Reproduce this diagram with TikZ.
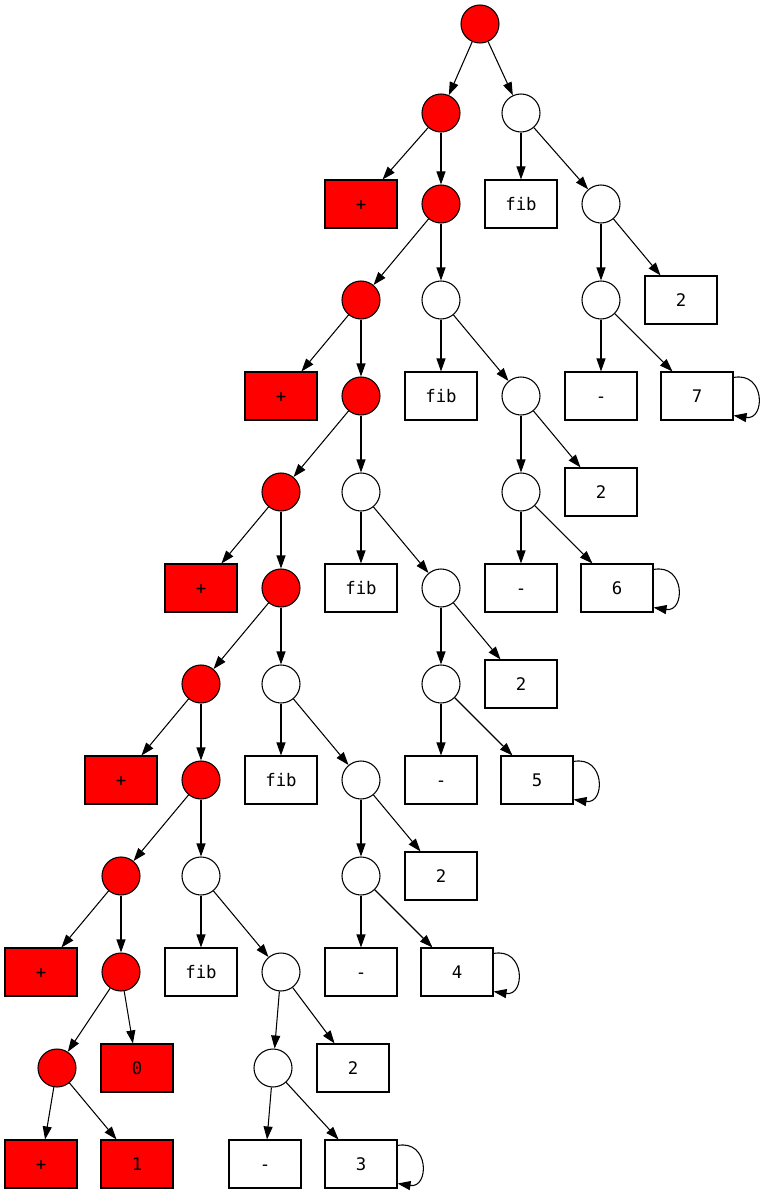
\documentclass[tikz,border=0pt]{standalone}
\usepackage{fontspec}
\setmonofont{DejaVu Sans Mono}
\usetikzlibrary{arrows.meta,positioning}

\begin{document}
\begin{tikzpicture}[
        on grid,
        node distance=72pt and 60pt,
        font=\ttfamily\fontsize{13}{15}\selectfont,
        op/.style={draw, circle, line width=0.8pt, minimum size=28.5pt, inner sep=0pt},
        redop/.style={op, fill=red},
        leaf/.style={draw, rectangle, line width=0.8pt, minimum width=54pt, minimum height=36pt, inner sep=0pt, text height=9.5pt, text depth=0pt},
        redleaf/.style={leaf, fill=red},
        link/.style={-{Triangle[length=9.75pt,width=6.75pt]}, line width=0.8pt},
        selfloop/.style={link}
    ]
        \useasboundingbox (0,0) rectangle (572.25pt,-896.25pt);

        \node[redop] (r0) at (360pt,-18pt) {};
        \node[redop, below left=66.75pt and 29.25pt of r0] (r1) {};
        \node[op, below right=66.75pt and 30.75pt of r0] (w1) {};

        \node[redleaf, below left=68.25pt and 60pt of r1] (p1) {+};
        \node[redop, below=68.25pt of r1] (r2) {};
        \node[leaf, below=68.25pt of w1] (fib1) {fib};
        \node[op, below right=68.25pt and 60pt of w1] (w1b) {};
        \node[op, below=of w1b] (w1c) {};
        \node[leaf, below right=of w1b] (two1) {2};
        \node[leaf, below=of w1c] (minus1) {-};
        \node[leaf, below right=72pt and 72pt of w1c] (n7) {7};

        \node[redop, below left=of r2] (r3) {};
        \node[op, below=of r2] (w2) {};
        \node[leaf, below=of w2] (fib2) {fib};
        \node[op, below right=of w2] (w2b) {};
        \node[op, below=of w2b] (w2c) {};
        \node[leaf, below right=of w2b] (two2) {2};
        \node[leaf, below=of w2c] (minus2) {-};
        \node[leaf, below right=72pt and 72pt of w2c] (n6) {6};

        \node[redleaf, below left=of r3] (p2) {+};
        \node[redop, below=of r3] (r4) {};
        \node[redop, below left=of r4] (r5) {};
        \node[op, below=of r4] (w3) {};
        \node[leaf, below=of w3] (fib3) {fib};
        \node[op, below right=of w3] (w3b) {};
        \node[op, below=of w3b] (w3c) {};
        \node[leaf, below right=of w3b] (two3) {2};
        \node[leaf, below=of w3c] (minus3) {-};
        \node[leaf, below right=72pt and 72pt of w3c] (n5) {5};

        \node[redleaf, below left=of r5] (p3) {+};
        \node[redop, below=of r5] (r6) {};
        \node[redop, below left=of r6] (r7) {};
        \node[op, below=of r6] (w4) {};
        \node[leaf, below=of w4] (fib4) {fib};
        \node[op, below right=of w4] (w4b) {};
        \node[op, below=of w4b] (w4c) {};
        \node[leaf, below right=of w4b] (two4) {2};
        \node[leaf, below=of w4c] (minus4) {-};
        \node[leaf, below right=72pt and 72pt of w4c] (n4) {4};

        \node[redleaf, below left=of r7] (p4) {+};
        \node[redop, below=of r7] (r8) {};
        \node[redop, below left=of r8] (r9) {};
        \node[op, below=of r8] (w5) {};
        \node[leaf, below=of w5] (fib5) {fib};
        \node[op, below right=of w5] (w5b) {};
        \node[op, below left=72pt and 6pt of w5b] (w5c) {};
        \node[leaf, below right=72pt and 54pt of w5b] (two5) {2};
        \node[leaf, below left=72pt and 6pt of w5c] (minus5) {-};
        \node[leaf, below right=72pt and 66pt of w5c] (n3) {3};

        \node[redleaf, below left=of r9] (p5) {+};
        \node[redop, below=of r9] (r10) {};
        \node[redop, below left=72pt and 48pt of r10] (r11) {};
        \node[redleaf, below right=72pt and 12pt of r10] (zero) {0};
        \node[redleaf, below left=72pt and 12pt of r11] (p6) {+};
        \node[redleaf, below right=72pt and 60pt of r11] (one) {1};

        % spine
        \draw[link] (r0) -- (r1);
        \draw[link] (r0) -- (w1);
        \draw[link] (r1) -- (p1);
        \draw[link] (r1) -- (r2);
        \draw[link] (r2) -- (r3);
        \draw[link] (r2) -- (w2);
        \draw[link] (r3) -- (p2);
        \draw[link] (r3) -- (r4);
        \draw[link] (r4) -- (r5);
        \draw[link] (r4) -- (w3);
        \draw[link] (r5) -- (p3);
        \draw[link] (r5) -- (r6);
        \draw[link] (r6) -- (r7);
        \draw[link] (r6) -- (w4);
        \draw[link] (r7) -- (p4);
        \draw[link] (r7) -- (r8);
        \draw[link] (r8) -- (r9);
        \draw[link] (r8) -- (w5);
        \draw[link] (r9) -- (p5);
        \draw[link] (r9) -- (r10);
        \draw[link] (r10) -- (r11);
        \draw[link] (r10) -- (zero);
        \draw[link] (r11) -- (p6);
        \draw[link] (r11) -- (one);

        % fib calls
        \draw[link] (w1) -- (fib1);
        \draw[link] (w1) -- (w1b);
        \draw[link] (w1b) -- (w1c);
        \draw[link] (w1b) -- (two1);
        \draw[link] (w1c) -- (minus1);
        \draw[link] (w1c) -- (n7);
        \draw[link] (w2) -- (fib2);
        \draw[link] (w2) -- (w2b);
        \draw[link] (w2b) -- (w2c);
        \draw[link] (w2b) -- (two2);
        \draw[link] (w2c) -- (minus2);
        \draw[link] (w2c) -- (n6);
        \draw[link] (w3) -- (fib3);
        \draw[link] (w3) -- (w3b);
        \draw[link] (w3b) -- (w3c);
        \draw[link] (w3b) -- (two3);
        \draw[link] (w3c) -- (minus3);
        \draw[link] (w3c) -- (n5);
        \draw[link] (w4) -- (fib4);
        \draw[link] (w4) -- (w4b);
        \draw[link] (w4b) -- (w4c);
        \draw[link] (w4b) -- (two4);
        \draw[link] (w4c) -- (minus4);
        \draw[link] (w4c) -- (n4);
        \draw[link] (w5) -- (fib5);
        \draw[link] (w5) -- (w5b);
        \draw[link] (w5b) -- (w5c);
        \draw[link] (w5b) -- (two5);
        \draw[link] (w5c) -- (minus5);
        \draw[link] (w5c) -- (n3);

        % self loops
        \draw[selfloop] ([yshift=-4.5pt]n7.north east) .. controls +(24pt,4.5pt) and +(24pt,-3.75pt) .. ([yshift=3.75pt]n7.south east);
        \draw[selfloop] ([yshift=-4.5pt]n6.north east) .. controls +(24pt,4.5pt) and +(24pt,-3.75pt) .. ([yshift=3.75pt]n6.south east);
        \draw[selfloop] ([yshift=-4.5pt]n5.north east) .. controls +(24pt,4.5pt) and +(24pt,-3.75pt) .. ([yshift=3.75pt]n5.south east);
        \draw[selfloop] ([yshift=-4.5pt]n4.north east) .. controls +(24pt,4.5pt) and +(24pt,-3.75pt) .. ([yshift=3.75pt]n4.south east);
        \draw[selfloop] ([yshift=-4.5pt]n3.north east) .. controls +(24pt,4.5pt) and +(24pt,-3.75pt) .. ([yshift=3.75pt]n3.south east);
    \end{tikzpicture}
\end{document}
